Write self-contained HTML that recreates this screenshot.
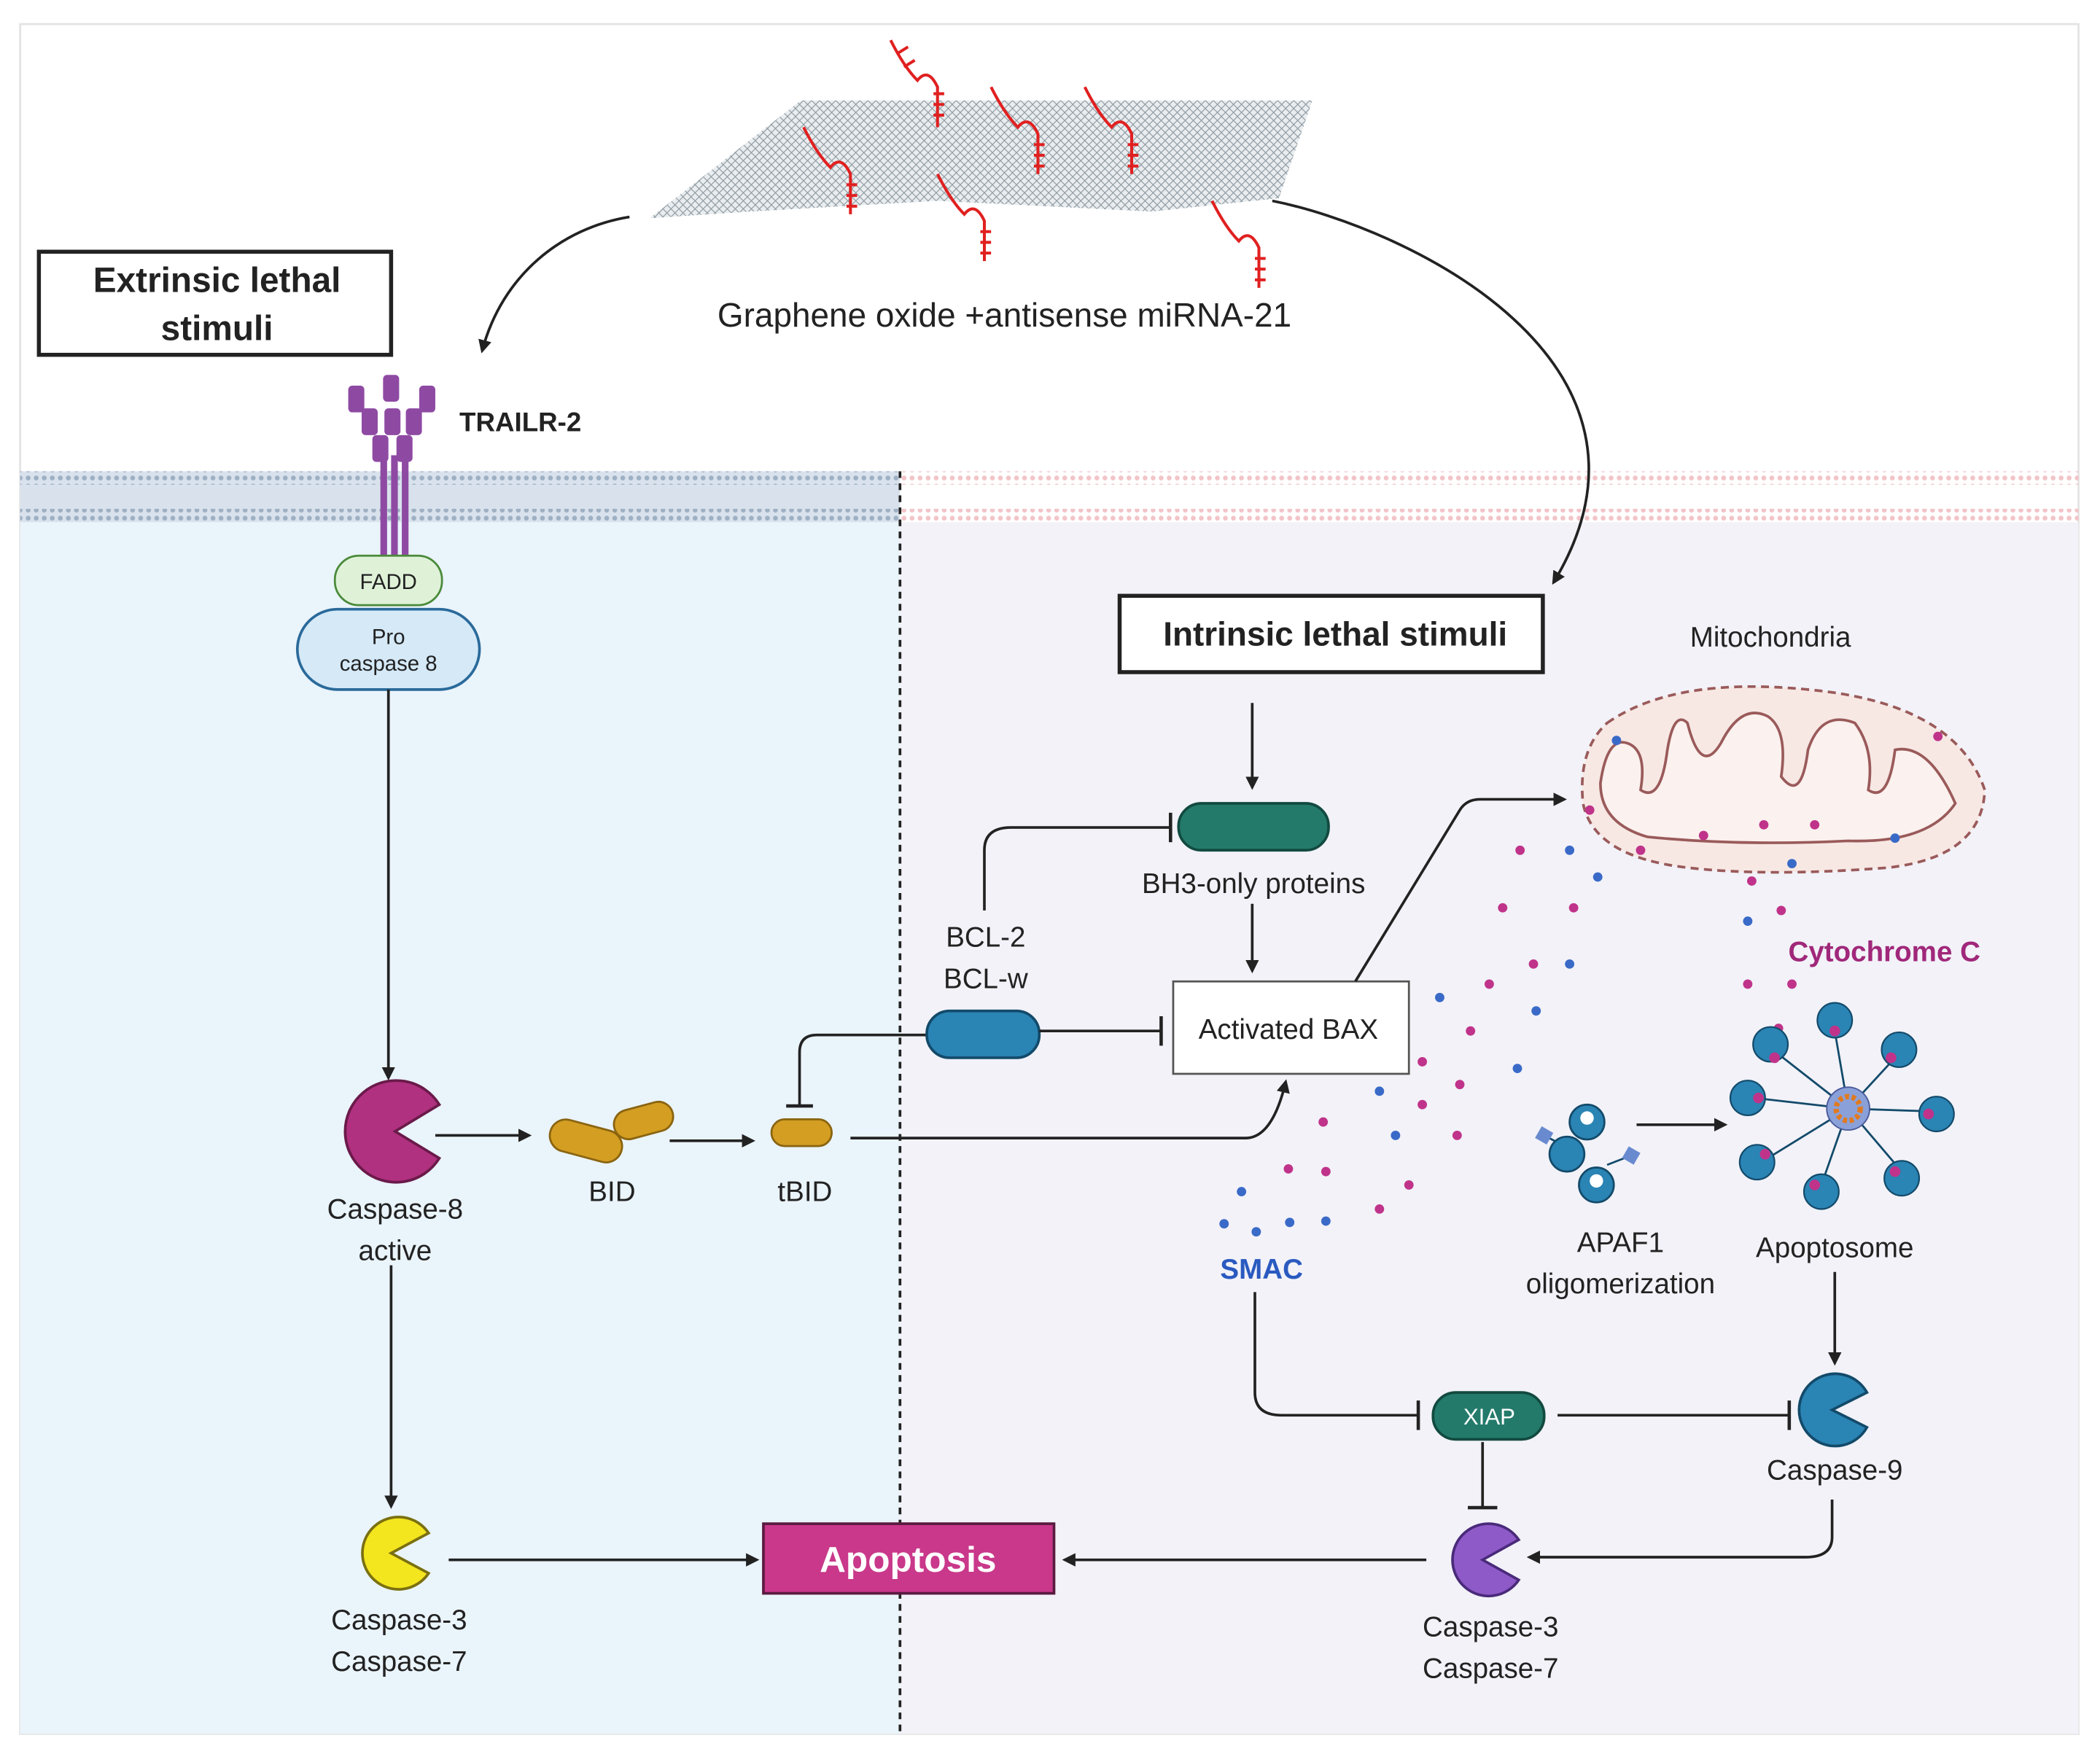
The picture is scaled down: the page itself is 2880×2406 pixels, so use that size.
<!DOCTYPE html>
<html><head><meta charset="utf-8"><style>
html,body{margin:0;padding:0;background:#fff;}
svg{display:block;}
text{font-family:"Liberation Sans",sans-serif;}
</style></head><body>
<svg width="2880" height="2406" viewBox="0 0 1568 1310" xmlns="http://www.w3.org/2000/svg">
<defs>
<marker id="ah" markerWidth="10" markerHeight="10" refX="8" refY="5" orient="auto" markerUnits="userSpaceOnUse"><path d="M0,0 L10,5 L0,10 z" fill="#222"/></marker>
<pattern id="hex" width="6" height="6" patternUnits="userSpaceOnUse"><path d="M0,3 L3,0 L6,3 L3,6z" fill="none" stroke="#8a969e" stroke-width="0.6"/></pattern>
<pattern id="memB" width="6" height="6" patternUnits="userSpaceOnUse"><circle cx="3" cy="3" r="1.8" fill="#9eb0c4"/></pattern>
<pattern id="memP" width="6" height="6" patternUnits="userSpaceOnUse"><circle cx="3" cy="3" r="1.8" fill="#f2c4c8"/></pattern>
</defs>
<rect x="0" y="0" width="1568" height="1310" fill="#fff"/>
<rect x="15" y="18" width="1537" height="1277" fill="none" stroke="#e3e3e3" stroke-width="1.5"/>
<rect x="15" y="390" width="657" height="905" fill="#eaf4fb"/>
<rect x="672" y="390" width="880" height="905" fill="#f2f2f8"/>
<rect x="15" y="352" width="657" height="38" fill="#d9e2ec"/>
<rect x="15" y="352" width="657" height="10" fill="url(#memB)"/>
<rect x="15" y="380" width="657" height="10" fill="url(#memB)"/>
<rect x="672" y="352" width="880" height="10" fill="url(#memP)"/>
<rect x="672" y="380" width="880" height="10" fill="url(#memP)"/>
<line x1="672" y1="352" x2="672" y2="1295" stroke="#222" stroke-width="2" stroke-dasharray="5,4"/>

<!-- graphene -->
<path d="M485,163 L598,75 L980,75 L955,148 L860,158 L700,150 L560,158 Z" fill="#e9edef"/>
<path d="M485,163 L598,75 L980,75 L955,148 L860,158 L700,150 L560,158 Z" fill="url(#hex)"/>
<g stroke="#e02020" stroke-width="2.2" fill="none">
<path d="M665,30 q10,20 20,30 q8,-10 15,5 l0,30 M670,40 l8,-5 M675,50 l8,-5 M697,70 l8,0 M697,78 l8,0 M697,86 l8,0"/>
<path d="M740,65 q10,20 20,30 q8,-10 15,5 l0,30 M772,108 l8,0 M772,116 l8,0 M772,124 l8,0"/>
<path d="M810,65 q10,20 20,30 q8,-10 15,5 l0,30 M842,108 l8,0 M842,116 l8,0 M842,124 l8,0"/>
<path d="M600,95 q10,20 20,30 q8,-10 15,5 l0,30 M632,138 l8,0 M632,146 l8,0 M632,154 l8,0"/>
<path d="M700,130 q10,20 20,30 q8,-10 15,5 l0,30 M732,173 l8,0 M732,181 l8,0 M732,189 l8,0"/>
<path d="M905,150 q10,20 20,30 q8,-10 15,5 l0,30 M937,193 l8,0 M937,201 l8,0 M937,209 l8,0"/>
</g>
<text x="750" y="244" font-size="25" text-anchor="middle" fill="#222">Graphene oxide +antisense miRNA-21</text>
<path d="M470,162 C420,170 375,205 360,262" stroke="#222" stroke-width="2" fill="none" marker-end="url(#ah)"/>
<path d="M950,150 C1050,170 1260,270 1160,435" stroke="#222" stroke-width="2" fill="none" marker-end="url(#ah)"/>

<rect x="29" y="188" width="263" height="77" fill="#fff" stroke="#222" stroke-width="3"/>
<text x="162" y="218" font-size="26" font-weight="bold" text-anchor="middle" fill="#222">Extrinsic lethal</text>
<text x="162" y="254" font-size="26" font-weight="bold" text-anchor="middle" fill="#222">stimuli</text>

<!-- TRAILR-2 -->
<g fill="#8e4aa3">
<rect x="284" y="340" width="5" height="75"/><rect x="292" y="340" width="5" height="75"/><rect x="300" y="340" width="5" height="75"/>
<rect x="286" y="280" width="12" height="20" rx="3"/><rect x="260" y="288" width="12" height="20" rx="3"/><rect x="313" y="288" width="12" height="20" rx="3"/>
<rect x="270" y="305" width="12" height="20" rx="3"/><rect x="287" y="305" width="12" height="20" rx="3"/><rect x="303" y="305" width="12" height="20" rx="3"/>
<rect x="278" y="325" width="12" height="20" rx="3"/><rect x="296" y="325" width="12" height="20" rx="3"/>
</g>
<text x="343" y="322" font-size="20" font-weight="bold" fill="#222">TRAILR-2</text>
<rect x="250" y="415" width="80" height="37" rx="18" fill="#dff2d8" stroke="#4a8a3a" stroke-width="1.5"/>
<text x="290" y="440" font-size="16" text-anchor="middle" fill="#222">FADD</text>
<rect x="222" y="455" width="136" height="60" rx="30" fill="#d5e9f7" stroke="#2a6a9a" stroke-width="2"/>
<text x="290" y="481" font-size="16" text-anchor="middle" fill="#222">Pro</text>
<text x="290" y="501" font-size="16" text-anchor="middle" fill="#222">caspase 8</text>
<line x1="290" y1="515" x2="290" y2="805" stroke="#222" stroke-width="2" marker-end="url(#ah)"/>

<!-- caspase-8 -->
<path d="M295,845 L328,825 A38,38 0 1 0 328,865 Z" fill="#b0317f" stroke="#6a1a4a" stroke-width="2"/>
<text x="295" y="910" font-size="21" text-anchor="middle" fill="#222">Caspase-8</text>
<text x="295" y="941" font-size="21" text-anchor="middle" fill="#222">active</text>
<line x1="325" y1="848" x2="395" y2="848" stroke="#222" stroke-width="2" marker-end="url(#ah)"/>
<rect x="410" y="840" width="55" height="24" rx="12" fill="#d39e22" stroke="#8a6410" stroke-width="1.5" transform="rotate(15 437 852)"/>
<rect x="458" y="826" width="45" height="22" rx="11" fill="#d39e22" stroke="#8a6410" stroke-width="1.5" transform="rotate(-15 480 837)"/>
<text x="457" y="897" font-size="21" text-anchor="middle" fill="#222">BID</text>
<line x1="500" y1="852" x2="562" y2="852" stroke="#222" stroke-width="2" marker-end="url(#ah)"/>
<rect x="576" y="836" width="45" height="20" rx="10" fill="#d39e22" stroke="#8a6410" stroke-width="1.5"/>
<text x="601" y="897" font-size="21" text-anchor="middle" fill="#222">tBID</text>
<path d="M635,850 L930,850 Q950,850 960,808" stroke="#222" stroke-width="2" fill="none" marker-end="url(#ah)"/>
<path d="M692,773 L610,773 Q597,773 597,786 L597,825" stroke="#222" stroke-width="2" fill="none"/>
<line x1="587" y1="826" x2="607" y2="826" stroke="#222" stroke-width="2.5"/>

<!-- caspase-3 left -->
<path d="M292,1160 L320,1145 A27,27 0 1 0 320,1175 Z" fill="#f3e51e" stroke="#7a7010" stroke-width="2"/>
<text x="298" y="1217" font-size="21" text-anchor="middle" fill="#222">Caspase-3</text>
<text x="298" y="1248" font-size="21" text-anchor="middle" fill="#222">Caspase-7</text>
<line x1="292" y1="945" x2="292" y2="1125" stroke="#222" stroke-width="2" marker-end="url(#ah)"/>
<line x1="335" y1="1165" x2="565" y2="1165" stroke="#222" stroke-width="2" marker-end="url(#ah)"/>
<rect x="570" y="1138" width="217" height="52" fill="#c9388a" stroke="#5a1a40" stroke-width="2"/>
<text x="678" y="1174" font-size="27" font-weight="bold" text-anchor="middle" fill="#fff">Apoptosis</text>

<!-- intrinsic -->
<rect x="836" y="445" width="316" height="57" fill="#fff" stroke="#222" stroke-width="3"/>
<text x="997" y="482" font-size="25" font-weight="bold" text-anchor="middle" fill="#222">Intrinsic lethal stimuli</text>
<line x1="935" y1="525" x2="935" y2="588" stroke="#222" stroke-width="2" marker-end="url(#ah)"/>
<rect x="880" y="600" width="112" height="35" rx="17" fill="#237a6a" stroke="#124a40" stroke-width="2"/>
<text x="936" y="667" font-size="21" text-anchor="middle" fill="#222">BH3-only proteins</text>
<line x1="935" y1="675" x2="935" y2="725" stroke="#222" stroke-width="2" marker-end="url(#ah)"/>
<path d="M735,680 L735,635 Q735,618 755,618 L873,618" stroke="#222" stroke-width="2" fill="none"/>
<line x1="874" y1="607" x2="874" y2="629" stroke="#222" stroke-width="2.5"/>
<text x="736" y="707" font-size="21" text-anchor="middle" fill="#222">BCL-2</text>
<text x="736" y="738" font-size="21" text-anchor="middle" fill="#222">BCL-w</text>
<rect x="692" y="755" width="84" height="35" rx="17" fill="#2a84b4" stroke="#134a6a" stroke-width="2"/>
<line x1="776" y1="770" x2="866" y2="770" stroke="#222" stroke-width="2"/>
<line x1="867" y1="759" x2="867" y2="781" stroke="#222" stroke-width="2.5"/>
<rect x="876" y="733" width="176" height="69" fill="#fff" stroke="#555" stroke-width="1.5"/>
<text x="962" y="776" font-size="21" text-anchor="middle" fill="#222">Activated BAX</text>
<path d="M1012,733 L1090,605 Q1095,597 1105,597 L1168,597" stroke="#222" stroke-width="2" fill="none" marker-end="url(#ah)"/>

<!-- mitochondria -->
<text x="1322" y="483" font-size="21" text-anchor="middle" fill="#222">Mitochondria</text>
<path d="M1200,540 Q1250,505 1350,515 Q1460,525 1482,590 Q1480,640 1410,648 Q1320,655 1260,648 Q1190,640 1182,600 Q1178,560 1200,540 Z" fill="#f7e8e4" stroke="#9a5a5a" stroke-width="2" stroke-dasharray="6,4"/>
<path d="M1195,585 Q1200,550 1215,555 Q1230,560 1225,590 Q1240,600 1245,560 Q1250,530 1260,540 Q1270,580 1285,555 Q1300,525 1320,535 Q1335,545 1330,580 Q1345,600 1350,560 Q1360,530 1385,540 Q1400,560 1395,590 Q1410,600 1415,560 Q1440,555 1460,600 Q1440,630 1380,628 Q1300,632 1230,625 Q1195,615 1195,585 Z" fill="#fbf1ee" stroke="#9a5a5a" stroke-width="2"/>
<g fill="#c0338a">
<circle cx="1135" cy="635" r="3.5"/><circle cx="1122" cy="678" r="3.5"/><circle cx="1112" cy="735" r="3.5"/><circle cx="1145" cy="720" r="3.5"/><circle cx="1098" cy="770" r="3.5"/><circle cx="1062" cy="793" r="3.5"/><circle cx="1090" cy="810" r="3.5"/><circle cx="1062" cy="825" r="3.5"/><circle cx="988" cy="838" r="3.5"/><circle cx="1088" cy="848" r="3.5"/><circle cx="962" cy="873" r="3.5"/><circle cx="990" cy="875" r="3.5"/><circle cx="1052" cy="885" r="3.5"/><circle cx="1030" cy="903" r="3.5"/><circle cx="1175" cy="678" r="3.5"/><circle cx="1225" cy="635" r="3.5"/><circle cx="1272" cy="624" r="3.5"/><circle cx="1317" cy="616" r="3.5"/><circle cx="1355" cy="616" r="3.5"/><circle cx="1447" cy="550" r="3.5"/><circle cx="1187" cy="605" r="3.5"/><circle cx="1308" cy="658" r="3.5"/><circle cx="1330" cy="680" r="3.5"/><circle cx="1305" cy="735" r="3.5"/><circle cx="1338" cy="735" r="3.5"/><circle cx="1328" cy="768" r="3.5"/></g>
<g fill="#3a6ac8">
<circle cx="1172" cy="635" r="3.5"/><circle cx="1193" cy="655" r="3.5"/><circle cx="1172" cy="720" r="3.5"/><circle cx="1075" cy="745" r="3.5"/><circle cx="1147" cy="755" r="3.5"/><circle cx="1133" cy="798" r="3.5"/><circle cx="1030" cy="815" r="3.5"/><circle cx="1042" cy="848" r="3.5"/><circle cx="927" cy="890" r="3.5"/><circle cx="914" cy="914" r="3.5"/><circle cx="938" cy="920" r="3.5"/><circle cx="963" cy="913" r="3.5"/><circle cx="990" cy="912" r="3.5"/><circle cx="1207" cy="553" r="3.5"/><circle cx="1415" cy="626" r="3.5"/><circle cx="1338" cy="645" r="3.5"/><circle cx="1305" cy="688" r="3.5"/></g>
<text x="1407" y="718" font-size="21" font-weight="bold" text-anchor="middle" fill="#a0287a">Cytochrome C</text>
<text x="942" y="955" font-size="21" font-weight="bold" text-anchor="middle" fill="#2a5ac0">SMAC</text>

<!-- APAF1 -->
<g stroke="#134a6a" stroke-width="1.5" fill="none"><path d="M1153,848 L1172,858"/><path d="M1218,863 L1200,870"/></g>
<g fill="#2a84b4" stroke="#134a6a" stroke-width="1.5">
<circle cx="1185" cy="838" r="13"/><circle cx="1170" cy="862" r="13"/><circle cx="1192" cy="885" r="13"/>
</g>
<g fill="#fff"><circle cx="1185" cy="835" r="5"/><circle cx="1192" cy="882" r="5"/></g>
<rect x="1148" y="843" width="10" height="10" fill="#6a8ad0" transform="rotate(30 1153 848)"/>
<rect x="1213" y="858" width="10" height="10" fill="#6a8ad0" transform="rotate(30 1218 863)"/>
<text x="1210" y="935" font-size="21" text-anchor="middle" fill="#222">APAF1</text>
<text x="1210" y="966" font-size="21" text-anchor="middle" fill="#222">oligomerization</text>
<line x1="1222" y1="840" x2="1288" y2="840" stroke="#222" stroke-width="2" marker-end="url(#ah)"/>

<!-- apoptosome -->
<g stroke="#134a6a" stroke-width="1.5" fill="none">
<path d="M1380,828 L1370,770"/><path d="M1380,828 L1415,790"/><path d="M1380,828 L1440,830"/><path d="M1380,828 L1420,875"/><path d="M1380,828 L1360,885"/><path d="M1380,828 L1320,865"/><path d="M1380,828 L1310,820"/><path d="M1380,828 L1325,785"/>
</g>
<g fill="#2a84b4" stroke="#134a6a" stroke-width="1.2">
<circle cx="1370" cy="762" r="13"/><circle cx="1418" cy="784" r="13"/><circle cx="1446" cy="832" r="13"/><circle cx="1420" cy="880" r="13"/><circle cx="1360" cy="890" r="13"/><circle cx="1312" cy="868" r="13"/><circle cx="1305" cy="820" r="13"/><circle cx="1322" cy="780" r="13"/>
</g>
<g fill="#c0338a"><circle cx="1370" cy="770" r="4"/><circle cx="1412" cy="790" r="4"/><circle cx="1440" cy="832" r="4"/><circle cx="1415" cy="875" r="4"/><circle cx="1355" cy="885" r="4"/><circle cx="1318" cy="862" r="4"/><circle cx="1313" cy="820" r="4"/><circle cx="1325" cy="790" r="4"/></g>
<circle cx="1380" cy="828" r="16" fill="#8aa0d8" stroke="#4a5a9a"/>
<circle cx="1380" cy="828" r="9" fill="none" stroke="#e07a20" stroke-width="4" stroke-dasharray="3,2"/>
<text x="1370" y="939" font-size="21" text-anchor="middle" fill="#222">Apoptosome</text>
<line x1="1370" y1="950" x2="1370" y2="1018" stroke="#222" stroke-width="2" marker-end="url(#ah)"/>
<path d="M1368,1053 L1394,1040 A27,27 0 1 0 1394,1066 Z" fill="#2a84b4" stroke="#134a6a" stroke-width="2"/>
<text x="1370" y="1105" font-size="21" text-anchor="middle" fill="#222">Caspase-9</text>

<!-- XIAP -->
<rect x="1070" y="1040" width="83" height="35" rx="17" fill="#237a6a" stroke="#124a40" stroke-width="2"/>
<text x="1112" y="1064" font-size="17" text-anchor="middle" fill="#fff">XIAP</text>
<path d="M937,965 L937,1040 Q937,1057 957,1057 L1058,1057" stroke="#222" stroke-width="2" fill="none"/>
<line x1="1059" y1="1046" x2="1059" y2="1068" stroke="#222" stroke-width="2.5"/>
<line x1="1163" y1="1057" x2="1335" y2="1057" stroke="#222" stroke-width="2"/>
<line x1="1336" y1="1046" x2="1336" y2="1068" stroke="#222" stroke-width="2.5"/>
<line x1="1107" y1="1077" x2="1107" y2="1125" stroke="#222" stroke-width="2"/>
<line x1="1096" y1="1126" x2="1118" y2="1126" stroke="#222" stroke-width="2.5"/>
<path d="M1107,1165 L1134,1150 A27,27 0 1 0 1134,1180 Z" fill="#8e5ac8" stroke="#4a2a7a" stroke-width="2"/>
<text x="1113" y="1222" font-size="21" text-anchor="middle" fill="#222">Caspase-3</text>
<text x="1113" y="1253" font-size="21" text-anchor="middle" fill="#222">Caspase-7</text>
<path d="M1368,1120 L1368,1148 Q1368,1163 1348,1163 L1142,1163" stroke="#222" stroke-width="2" fill="none" marker-end="url(#ah)"/>
<line x1="1065" y1="1165" x2="795" y2="1165" stroke="#222" stroke-width="2" marker-end="url(#ah)"/>
</svg>
</body></html>
